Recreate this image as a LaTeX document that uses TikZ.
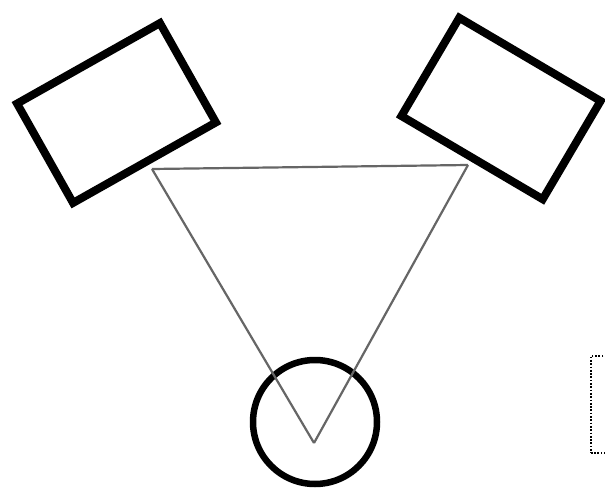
\documentclass[tikz,border=0pt]{standalone}
\begin{document}
\begin{tikzpicture}[x=1pt,y=-1pt,
  panel/.style={draw=black,line width=8pt,minimum width=164pt,minimum height=114pt,inner sep=0pt,outer sep=0pt},
  ring/.style={draw=black,line width=6.5pt,circle,minimum size=124pt,inner sep=0pt},
  link/.style={draw=gray!80!black,line width=2.2pt},
  framebox/.style={draw=black,line width=1.7pt,dash pattern=on 1.7pt off 1.6pt,minimum width=60pt,minimum height=97pt,inner sep=0pt}]
\useasboundingbox (0,0) rectangle (605,492);
\clip (0,0) rectangle (605,492);
\fill[white] (0,0) rectangle (605,492);
\node[panel,rotate=29.4] (L) at (116.5,113) {};
\node[panel,rotate=-30.5] (R) at (501,108.5) {};
\node[ring] (C) at (315,422) {};
\node[framebox,anchor=north west] (F) at (590,355) {};
\coordinate (a) at (152,169);
\coordinate (b) at (468,165);
\coordinate (c) at (314,443);
\draw[link] (a) -- (b);
\draw[link] (a) -- (c);
\draw[link] (b) -- (c);
\end{tikzpicture}
\end{document}
